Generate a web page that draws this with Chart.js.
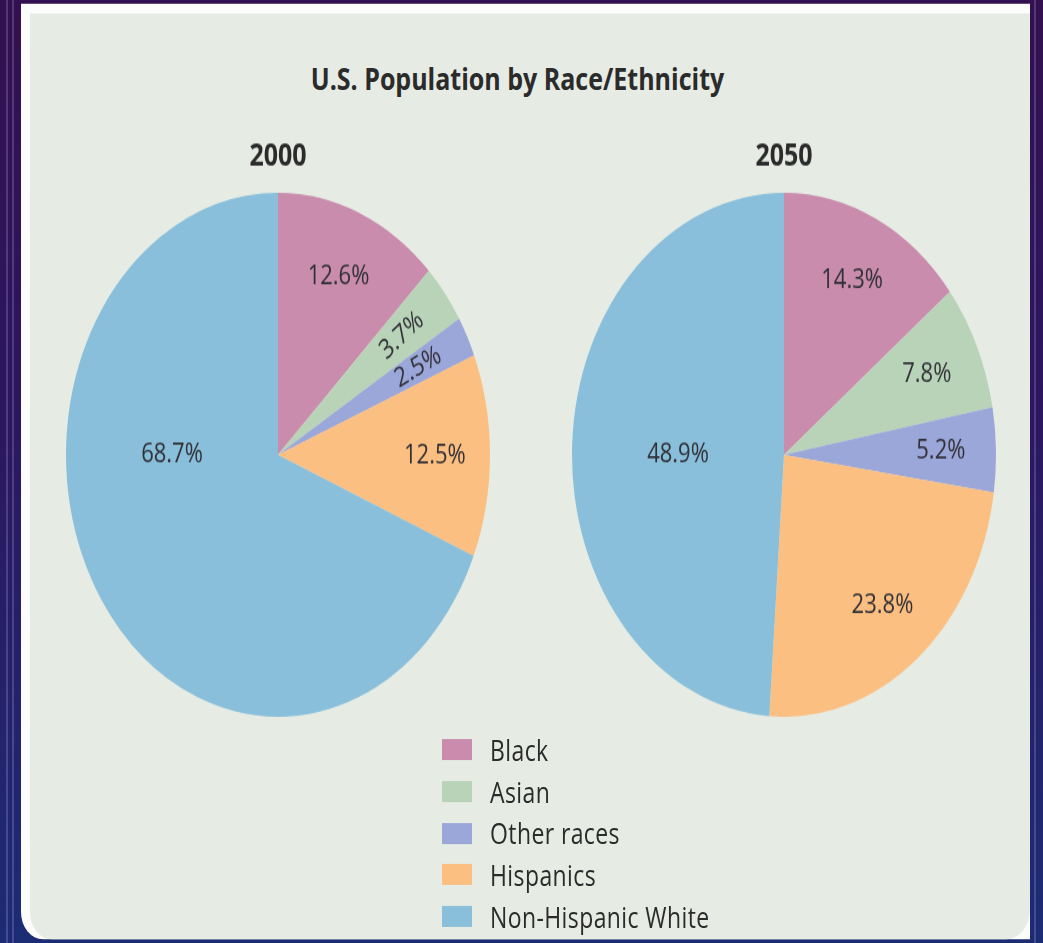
<!DOCTYPE html>
<html>
<head>
<meta charset="utf-8">
<script src="https://cdn.jsdelivr.net/npm/chart.js@4.4.1/dist/chart.umd.min.js"></script>
<style>
  html, body { margin: 0; padding: 0; }
  body {
    width: 1043px; height: 943px; overflow: hidden; position: relative;
    background: linear-gradient(180deg, #33104f 0%, #2b1760 45%, #1c2c74 100%);
    font-family: "Open Sans", "Noto Sans", sans-serif;
  }
  .streak { position: absolute; top: 0; bottom: 0; width: 2px; background: rgba(190, 170, 230, 0.25); }
  #stage {
    position: absolute; left: 0; top: 0; width: 1043px; height: 763px;
    transform: scaleY(1.2359); transform-origin: 0 0;
  }
  #frame {
    position: absolute; left: 21px; top: 3px; width: 1009px; height: 757px;
    background: #fbfcfb; border-bottom-left-radius: 22px;
  }
  #panel {
    position: absolute; left: 30px; top: 11px; width: 1000px; height: 749px;
    background: #e6ece4; border-bottom-left-radius: 22px; border-bottom-right-radius: 24px;
  }
  #title {
    position: absolute; left: 0; width: 1035px; top: 47px; text-align: center;
    font-size: 25px; font-weight: bold; color: #2b2b2b; line-height: 32px;
  }
  canvas { position: absolute; }
  #legend { position: absolute; left: 442px; top: 590px; }
  .item { height: 33.7px; display: flex; align-items: center; font-size: 23px; letter-spacing: 0.4px; color: #2b2b2b; }
  .swatch { width: 30px; height: 17px; margin-right: 18px; }
</style>
</head>
<body>
<div class="streak" style="left:6px"></div>
<div class="streak" style="left:12px"></div>
<div class="streak" style="left:1034px"></div>
<div id="stage">
  <div id="frame"></div>
  <div id="panel"></div>
  <div id="title">U.S. Population by Race/Ethnicity</div>
  <canvas id="pie2000" width="424" height="475" style="left:66px; top:105px;"></canvas>
  <canvas id="pie2050" width="424" height="475" style="left:572px; top:105px;"></canvas>
  <div id="legend"></div>
</div>
<script>
const categories = ['Black', 'Asian', 'Other races', 'Hispanics', 'Non-Hispanic White'];
const years = ['2000', '2050'];
const share2000 = [12.6, 3.7, 2.5, 12.5, 68.7];
const share2050 = [14.3, 7.8, 5.2, 23.8, 48.9];
const sliceColors = ['#c98cad', '#b8d3b8', '#9ba6d9', '#fcbf82', '#89bfda'];

const fontFamily = '"Open Sans", "Noto Sans", sans-serif';

// percent labels inside the slices
const sliceLabels = {
  id: 'sliceLabels',
  afterDatasetsDraw(chart) {
    const ctx = chart.ctx;
    const values = chart.data.datasets[0].data;
    ctx.save();
    ctx.font = '22px ' + fontFamily;
    ctx.fillStyle = '#303036';
    ctx.textAlign = 'center';
    ctx.textBaseline = 'middle';
    chart.getDatasetMeta(0).data.forEach((arc, i) => {
      const v = values[i];
      let a = (arc.startAngle + arc.endAngle) / 2;
      let f = 0.74;
      if (v > 40) { a = Math.PI; f = 0.5; }
      const x = arc.x + Math.cos(a) * arc.outerRadius * f;
      const y = arc.y + Math.sin(a) * arc.outerRadius * f;
      ctx.save();
      ctx.translate(x, y);
      if (v < 5) ctx.rotate(a);
      ctx.fillText(v.toFixed(1) + '%', 0, 0);
      ctx.restore();
    });
    ctx.restore();
  }
};

function makePie(id, year, values) {
  return new Chart(document.getElementById(id), {
    type: 'pie',
    data: {
      labels: categories,
      datasets: [{ data: values, backgroundColor: sliceColors, borderWidth: 0 }]
    },
    options: {
      responsive: false,
      animation: false,
      layout: { padding: 0 },
      plugins: {
        legend: { display: false },
        tooltip: { enabled: false },
        title: {
          display: true,
          text: year,
          color: '#2b2b2b',
          font: { family: fontFamily, size: 25, weight: 'bold', lineHeight: 1.2 },
          padding: { top: 7, bottom: 14 }
        }
      }
    },
    plugins: [sliceLabels]
  });
}

makePie('pie2000', years[0], share2000);
makePie('pie2050', years[1], share2050);

const legend = document.getElementById('legend');
categories.forEach((c, i) => {
  legend.innerHTML += `<div class="item"><span class="swatch" style="background:${sliceColors[i]}"></span>${c}</div>`;
});
</script>
</body>
</html>
